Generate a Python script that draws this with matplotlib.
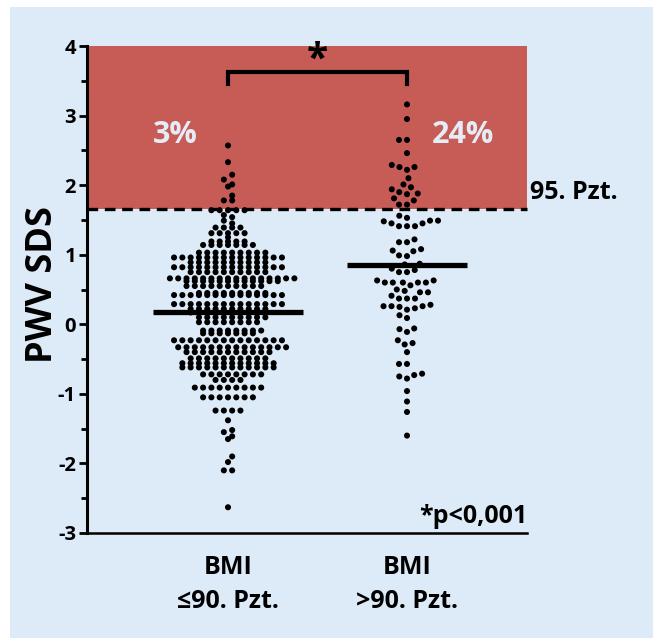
import numpy as np
import matplotlib
matplotlib.use("Agg")
import matplotlib.pyplot as plt
from matplotlib.patches import Rectangle
from collections import Counter

plt.rcParams['font.family'] = ['Open Sans', 'DejaVu Sans']
plt.rcParams['font.weight'] = 'bold'

# ---------------- data ----------------
categories = ["BMI\n≤90. Pzt.", "BMI\n>90. Pzt."]
group1_rows = [  # (value, count)
    (2.57, 1), (2.33, 1), (2.15, 1), (2.08, 1), (2.01, 1), (1.98, 1), (1.85, 1), (1.78, 2),
    (1.64, 5), (1.57, 1), (1.54, 1), (1.49, 1), (1.45, 1), (1.39, 4), (1.31, 5), (1.25, 1),
    (1.19, 5), (1.14, 7), (1.03, 9), (0.96, 14), (0.89, 10), (0.82, 14), (0.75, 10),
    (0.66, 16), (0.62, 12), (0.55, 10), (0.45, 9), (0.42, 14), (0.29, 14), (0.22, 10),
    (0.17, 10), (0.10, 9), (0.03, 8), (-0.09, 8), (-0.13, 7), (-0.23, 14), (-0.33, 14),
    (-0.40, 11), (-0.49, 10), (-0.56, 12), (-0.62, 12), (-0.72, 8), (-0.80, 4), (-0.91, 9),
    (-1.05, 7), (-1.24, 4), (-1.38, 1), (-1.52, 1), (-1.55, 1), (-1.61, 1), (-1.65, 1),
    (-1.90, 1), (-1.98, 1), (-2.10, 2), (-2.63, 1),
]
group2_values = [
    3.16, 2.95, 2.65, 2.65, 2.46, 2.26, 2.22, 2.26, 2.29, 2.10, 1.97, 2.01, 1.94,
    1.90, 1.87, 1.88, 1.81, 1.78, 1.72, 1.72,
    1.56, 1.49, 1.49, 1.53, 1.45, 1.41, 1.41, 1.41, 1.45, 1.48,
    1.22, 1.18, 1.18, 1.08, 1.05, 1.06, 0.99, 0.98, 0.87, 0.86,
    0.80, 0.75, 0.75, 0.78, 0.60, 0.60, 0.63, 0.56, 0.60, 0.60, 0.63, 0.60,
    0.46, 0.41, 0.50, 0.46, 0.48, 0.37, 0.37, 0.37,
    0.28, 0.26, 0.25, 0.21, 0.23, 0.26, 0.26, 0.13, 0.09,
    -0.06, -0.11, -0.07, -0.23, -0.29, -0.27, -0.40, -0.57, -0.57,
    -0.73, -0.78, -0.75, -0.71, -0.96, -1.11, -1.26, -1.60,
]
group1_values = [v for v, c in group1_rows for _ in range(c)]
means = [0.18, 0.85]
threshold = 1.65
pct_labels = ["3%", "24%"]
y_ticks = [-3, -2, -1, 0, 1, 2, 3, 4]

# ---------------- figure ----------------
W, H = 653, 638
fig = plt.figure(figsize=(W / 100, H / 100), dpi=100, facecolor="white")
fig.patches.append(Rectangle((10 / W, 0), 1 - 10 / W, 1 - 7 / H,
                             transform=fig.transFigure, facecolor="#DDEAF7",
                             edgecolor="none", zorder=-10))

ax_l, ax_r, ax_t, ax_b = 87, 527, 46, 533
ax = fig.add_axes([ax_l / W, 1 - ax_b / H, (ax_r - ax_l) / W, (ax_b - ax_t) / H])
ax.set_facecolor("none")
xl = (1 - (228 - ax_l) / 179.0, 2 + (ax_r - 407) / 179.0)
ax.set_xlim(*xl)
ax.set_ylim(-3, 4)
sx = (ax_r - ax_l) / (xl[1] - xl[0])
sy = (ax_b - ax_t) / 7.0

red = "#C75C56"
ax.add_patch(Rectangle((xl[0], threshold), xl[1] - xl[0], 4 - threshold,
                       facecolor=red, edgecolor="none", zorder=0))
ax.plot(xl, [threshold, threshold], color="black", lw=2.4, ls=(0, (3.2, 2.0)),
        zorder=3, clip_on=False)


def row_layout(vals, s=8.3):
    cnt = Counter(vals)
    placed = []
    xs_all, ys_all = [], []
    for u in sorted(cnt):
        n = cnt[u]
        base = (np.arange(n) - (n - 1) / 2) * s
        yp = u * sy
        best, bestpen = None, None
        for shift in (0.0, s / 2, -s / 2):
            xs = base + shift
            pen = abs(shift) * 0.01
            for (yy, px) in placed:
                dy = abs(yp - yy)
                if dy < s:
                    for x in xs:
                        d = np.hypot(x - px, dy)
                        pen += np.sum(np.clip(s - d, 0, None))
            if bestpen is None or pen < bestpen:
                best, bestpen = xs, pen
        for x in best:
            placed.append((yp, x))
            xs_all.append(x / sx)
            ys_all.append(u)
    return np.array(xs_all), np.array(ys_all)


def swarm_layout(vals, d=8.0):
    vals = sorted(vals)
    placed = []
    xs_all = []
    for v in vals:
        yp = v * sy
        neigh = [(x, y) for x, y in placed if abs(y - yp) < d]
        cands = [0.0]
        for x, y in neigh:
            dx = np.sqrt(max(d * d - (y - yp) ** 2, 0))
            cands += [x + dx, x - dx]
        cands.sort(key=lambda c: (abs(c), c))
        for c in cands:
            if all(np.hypot(c - x, yp - y) >= d - 1e-6 for x, y in neigh):
                break
        placed.append((c, yp))
        xs_all.append(c / sx)
    return np.array(xs_all), np.array(vals)


layouts = [row_layout(group1_values), swarm_layout(group2_values)]
for i, (dx, yv) in enumerate(layouts):
    ax.scatter(i + 1 + dx, yv, s=19, color="black", edgecolors="none", zorder=4,
               clip_on=False)

half = [75 / sx, 60 / sx]
for i, m in enumerate(means):
    ax.plot([i + 1 - half[i], i + 1 + half[i]], [m, m], color="black", lw=3.8,
            solid_capstyle="butt", zorder=5)

# bracket
ax.plot([1, 1, 2, 2], [3.46, 3.62, 3.62, 3.46], color="black", lw=3.0,
        solid_joinstyle="miter", zorder=5)
ax.text(1.5, 3.80, "*", ha="center", va="center", fontsize=28, fontweight="bold")

ax.text(1 - 53 / sx, 2.61, pct_labels[0], ha="center", va="baseline", fontsize=22,
        fontweight="bold", color="#E3ECF7")
ax.text(2 + 56 / sx, 2.61, pct_labels[1], ha="center", va="baseline", fontsize=22,
        fontweight="bold", color="#E3ECF7")

ax.text(xl[1] + 3 / sx, 1.80, "95. Pzt.", ha="left", va="baseline", fontsize=18,
        fontweight="bold", clip_on=False)
ax.text(xl[1], -2.86, "*p<0,001", ha="right", va="baseline", fontsize=18,
        fontweight="bold")

# axes styling
for sp in ("top", "right"):
    ax.spines[sp].set_visible(False)
ax.spines["left"].set_linewidth(2.2)
ax.spines["bottom"].set_linewidth(1.8)
ax.set_yticks(y_ticks)
ax.set_yticklabels([str(t) for t in y_ticks], fontsize=14.5, fontweight="bold")
ax.set_yticks(np.arange(-2.5, 4, 1.0), minor=True)
ax.tick_params(axis="y", which="major", length=6, width=2, pad=2)
ax.tick_params(axis="y", which="minor", length=4, width=2)
ax.set_xticks([])
ax.set_ylabel("PWV SDS", fontsize=26, fontweight="bold", va="center")
ax.yaxis.set_label_coords((43 - ax_l) / (ax_r - ax_l), (ax_b - 285) / (ax_b - ax_t))

for i, lab in enumerate(categories):
    l1, l2 = lab.split("\n")
    xf = (ax_l + (i + 1 - xl[0]) * sx) / W
    fig.text(xf, 1 - 574 / H, l1, ha="center", va="baseline", fontsize=18,
             fontweight="bold")
    fig.text(xf, 1 - 608 / H, l2, ha="center", va="baseline", fontsize=18,
             fontweight="bold")

fig.savefig("out.png", dpi=100, facecolor=fig.get_facecolor())
